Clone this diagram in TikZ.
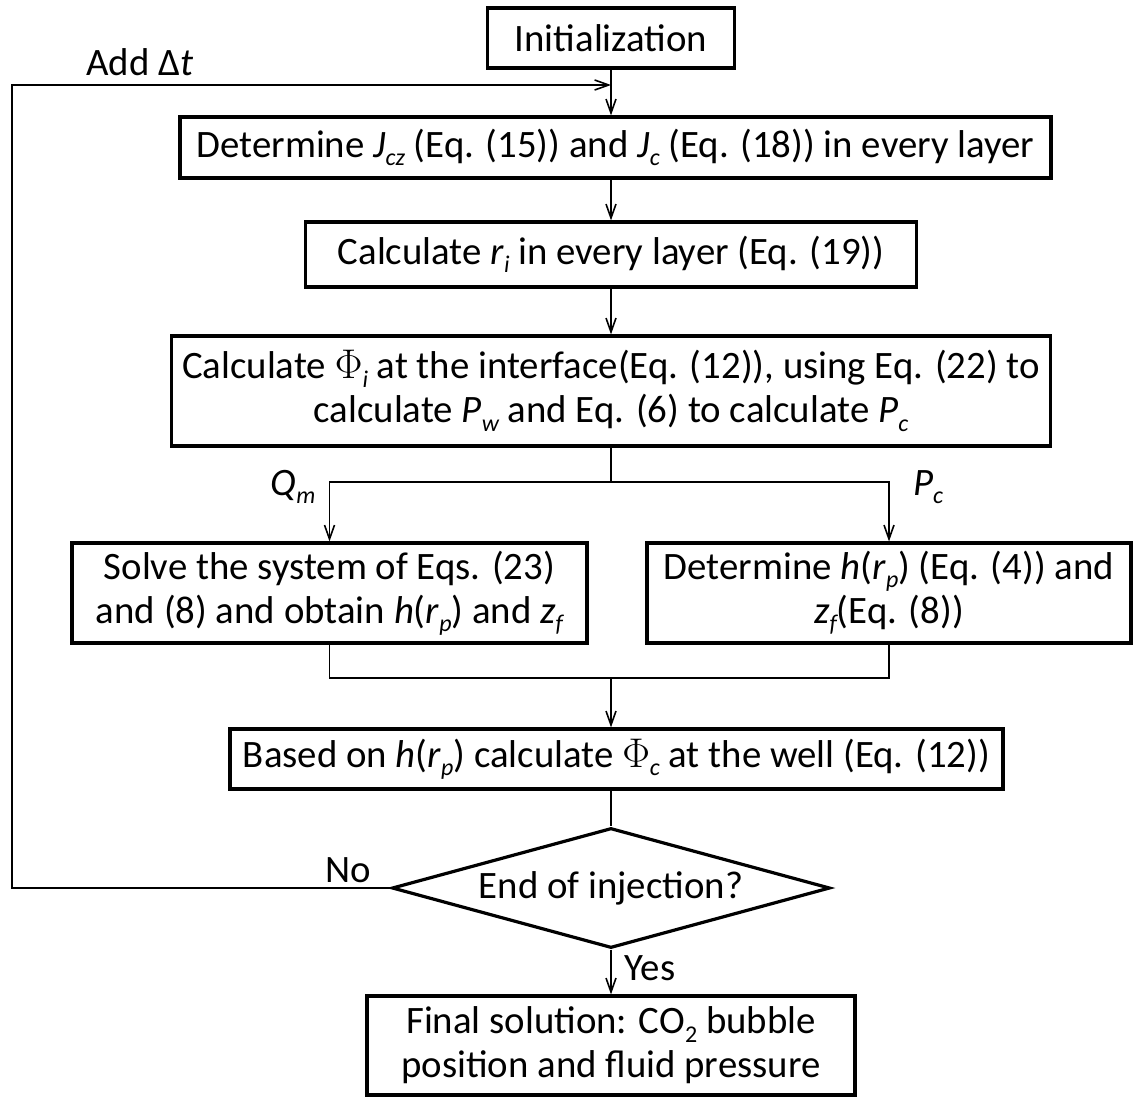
\documentclass[tikz,border=0pt]{standalone}
\usepackage{fontspec}
\setmainfont{Carlito}
\usepackage{tikz}
\usetikzlibrary{shapes.geometric,arrows.meta}

% lowered italic index, as in J_cz
\newcommand{\idx}[1]{\raisebox{-0.45ex}{\fontsize{12}{12}\selectfont\itshape #1}}
\newcommand{\var}[1]{\textit{#1}}

\begin{document}
\begin{tikzpicture}[x=0.5pt, y=-0.5pt,
    every node/.style={font=\fontsize{19.4}{22}\selectfont},
    box/.style={draw, line width=1.6pt, align=center, inner sep=0pt},
    decision/.style={draw, line width=1.6pt, diamond, shape aspect=3.65, inner sep=0pt,
      minimum width=219pt, minimum height=60pt},
    line/.style={draw, line width=0.8pt},
    flow/.style={line, -{Straight Barb[length=7pt,width=5pt]}}]
    \useasboundingbox (0,0) rectangle (1133,1097);

    \node[box, minimum width=123.5pt, minimum height=30pt] (init) at (611,38) {Initialization};
    \node[box, minimum width=435.5pt, minimum height=30.5pt] (jc) at (615.5,147.5)
      {Determine \var{J}\idx{cz} (Eq. (15)) and \var{J}\idx{c} (Eq. (18)) in every layer};
    \node[box, minimum width=305.5pt, minimum height=32.5pt] (ri) at (611,254.5)
      {Calculate \var{r}\idx{i} in every layer (Eq. (19))};
    \node[box, minimum width=439.5pt, minimum height=55pt] (phi) at (611,391)
      {Calculate $\Phi$\idx{i} at the interface(Eq. (12)), using Eq. (22) to\\
       calculate \var{P}\idx{w} and Eq. (6) to calculate \var{P}\idx{c}};
    \node[box, minimum width=257.5pt, minimum height=50pt] (solve) at (329.5,593)
      {Solve the system of Eqs. (23)\\ and (8) and obtain \var{h}(\var{r}\idx{p}) and \var{z}\idx{f}};
    \node[box, minimum width=242pt, minimum height=50pt] (hrp) at (889,593)
      {Determine \var{h}(\var{r}\idx{p}) (Eq. (4)) and\\ \var{z}\idx{f}(Eq. (8))};
    \node[box, minimum width=386.5pt, minimum height=30pt] (phic) at (616.5,759)
      {Based on \var{h}(\var{r}\idx{p}) calculate $\Phi$\idx{c} at the well (Eq. (12))};
    \node[decision] (endq) at (611,888) {End of injection?};
    \node[box, minimum width=244pt, minimum height=49.5pt] (final) at (611,1045.5)
      {Final solution: CO\raisebox{-0.45ex}{\fontsize{12}{12}\selectfont 2} bubble\\ position and fluid pressure};

    \coordinate (split) at (611,482);
    \coordinate (join) at (611,678);
    \coordinate (loopT) at (12,85);

    \draw[flow] (init) -- (init |- jc.north);
    \draw[flow] (init |- jc.south) -- (ri);
    \draw[flow] (ri) -- (phi);
    \draw[line] (phi) -- (split);
    \draw[flow] (split) -| (solve.north);
    \draw[flow] (split) -| (hrp.north);
    \draw[line] (solve) |- (join);
    \draw[line] (hrp) |- (join);
    \draw[flow] (join) -- (join |- phic.north);
    \draw[line] (phic.south -| endq) -- (endq);
    \draw[flow] (endq) -- (final);
    \draw[flow] (endq.west) -| (loopT) -- (init |- loopT);

    \node (qm) at (293,487) {\var{Q}\idx{m}};
    \node (pc) at (928,487) {\var{P}\idx{c}};
    \node (addt) at (140,62) {Add Δ\var{t}};
    \node (no) at (348,870) {No};
    \node (yes) at (650,968) {Yes};
\end{tikzpicture}
\end{document}
